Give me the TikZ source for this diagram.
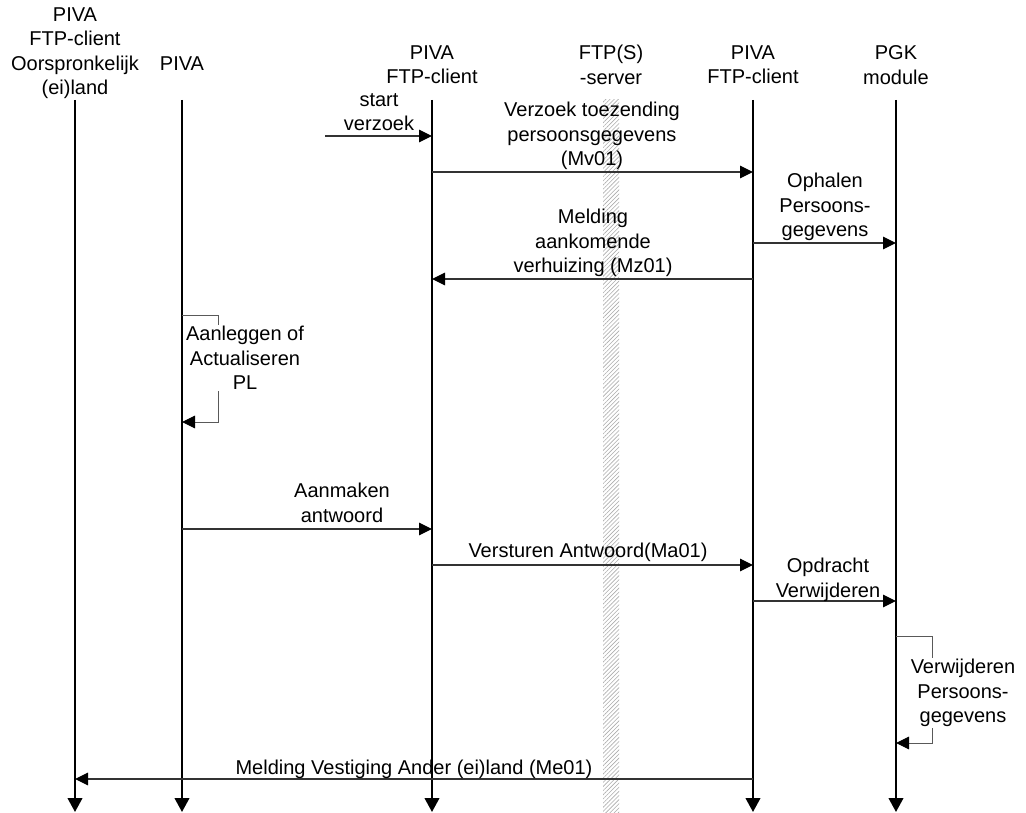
\documentclass[tikz,border=0pt]{standalone}
\usepackage{fontspec}
\setmainfont{Liberation Sans}
\usetikzlibrary{
  arrows.meta,
  patterns.meta
}
\tikzset{
  hdr/.style={align=center, inner sep=0pt,
    font=\fontsize{15}{18.3}\selectfont},
  lbl/.style={align=center, inner sep=1pt,
    font=\fontsize{15}{18.3}\selectfont},
  life/.style={line width=1.5pt, -{Triangle[length=10.5pt, width=11pt]}},
  msg/.style={line width=0.9pt, draw=black!80,
    -{Triangle[length=9.75pt, width=9.5pt, color=black]}},
  selfmsg/.style={line width=0.7pt, draw=gray!70!black,
    -{Triangle[length=9.75pt, width=9.5pt, color=black]}},
}

\begin{document}
\begin{tikzpicture}[x=0.75pt, y=-0.75pt]
  \useasboundingbox (0,0) rectangle (1026,813);

  % FTP(S)-server band
  \fill[pattern={Lines[angle=45, distance=2.2pt, line width=0.45pt]},
        pattern color=gray!65] (603,100) rectangle (619,813);

  \node[hdr] (hOrig) at (75,53) {PIVA\\FTP-client\\Oorspronkelijk\\(ei)land};
  \node[hdr] (hPiva) at (182,64) {PIVA};
  \node[hdr] (hCliA) at (432,65) {PIVA\\FTP-client};
  \node[hdr] (hSrv) at (611,65) {FTP(S)\\-server};
  \node[hdr] (hCliB) at (753,65) {PIVA\\FTP-client};
  \node[hdr] (hPgk) at (896,65) {PGK\\module};

  % lifelines
  \foreach \n/\x in {orig/75, piva/182, cliA/432, cliB/753, pgk/896} {
    \coordinate (\n) at (\x,100);
    \coordinate (\n-end) at (\x,812);
    \draw[life] (\n) -- (\n-end);
  }

  % messages
  \coordinate (startA) at (325,136);
  \draw[msg] (startA) -- (cliA |- startA);
  \foreach \a/\b/\y in {cliA/cliB/172, cliB/pgk/243, cliB/cliA/279,
                        piva/cliA/529, cliA/cliB/565, cliB/pgk/601,
                        cliB/orig/779} {
    \draw[msg] (\a |- 0,\y) -- (\b |- 0,\y);
  }

  \node[lbl] (lStart) at (379,112) {start\\verzoek};
  \node[lbl] (lMv) at (592,136) {Verzoek toezending\\persoonsgegevens\\(Mv01)};
  \node[lbl] (lOph) at (825,207) {Ophalen\\Persoons-\\gegevens};
  \node[lbl] (lMz) at (593,243) {Melding\\aankomende\\verhuizing (Mz01)};
  \node[lbl] (lAanm) at (342,503) {Aanmaken\\antwoord};
  \node[lbl] (lMa) at (588,552) {Versturen Antwoord(Ma01)};
  \node[lbl] (lOpd) at (828,580) {Opdracht\\Verwijderen};
  \node[lbl] (lMe) at (414,769) {Melding Vestiging Ander (ei)land (Me01)};

  % self messages
  \coordinate (turnA) at (218,315);
  \coordinate (backA) at (218,422);
  \draw[selfmsg] (piva |- turnA) -- (turnA) -- (backA) -- (piva |- backA);
  \node[lbl, fill=white] (lPl) at (245,358) {Aanleggen of\\Actualiseren\\PL};

  \coordinate (turnB) at (932,636);
  \coordinate (backB) at (932,743);
  \draw[selfmsg] (pgk |- turnB) -- (turnB) -- (backB) -- (pgk |- backB);
  \node[lbl, fill=white] (lVerw) at (963,693) {Verwijderen\\Persoons-\\gegevens};
\end{tikzpicture}
\end{document}
